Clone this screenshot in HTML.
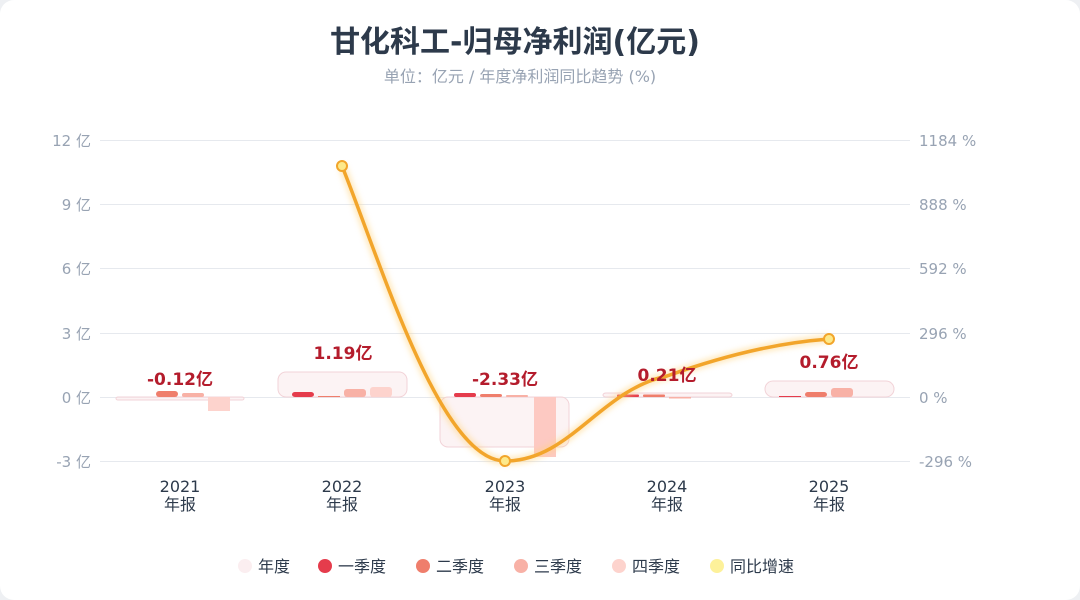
<!DOCTYPE html>
<html><head><meta charset="utf-8"><style>
body{margin:0;background:#eef0f3;}
svg text{font-family:"DejaVu Sans","Noto Sans CJK SC",sans-serif;}
</style></head><body>
<svg width="1080" height="600" viewBox="0 0 1080 600" style="display:block">
<defs><filter id="gl" x="-20%" y="-20%" width="140%" height="140%"><feGaussianBlur stdDeviation="3"/></filter></defs>
<rect width="1080" height="600" fill="#eef0f3"/>
<rect width="1080" height="600" rx="14" fill="#fff"/>
<text x="515" y="52" text-anchor="middle" font-size="30" font-weight="bold" fill="#2d3a4b">甘化科工-归母净利润(亿元)</text>
<text x="520" y="82" text-anchor="middle" font-size="16" fill="#98a3b3">单位：亿元 / 年度净利润同比趋势 (%)</text>
<g stroke="#e6e9ee" stroke-width="1">
<line x1="100" y1="140.5" x2="910" y2="140.5"/><line x1="100" y1="204.5" x2="910" y2="204.5"/>
<line x1="100" y1="268.5" x2="910" y2="268.5"/><line x1="100" y1="333.5" x2="910" y2="333.5"/>
<line x1="100" y1="397.5" x2="910" y2="397.5"/><line x1="100" y1="461.5" x2="910" y2="461.5"/>
</g>
<g font-size="15" fill="#98a3b3" text-anchor="end">
<text x="91" y="146">12 亿</text><text x="91" y="210">9 亿</text><text x="91" y="274">6 亿</text>
<text x="91" y="339">3 亿</text><text x="91" y="403">0 亿</text><text x="91" y="467">-3 亿</text>
</g>
<g font-size="15" fill="#98a3b3">
<text x="919" y="146">1184 %</text><text x="919" y="210">888 %</text><text x="919" y="274">592 %</text>
<text x="919" y="339">296 %</text><text x="919" y="403">0 %</text><text x="919" y="467">-296 %</text>
</g>
<g fill="#fbeef0" fill-opacity="0.7" stroke="#f2d3d8" stroke-width="1">
<rect x="116" y="397" width="128" height="3" rx="2"/>
<rect x="278" y="372" width="129" height="25" rx="8"/>
<rect x="440" y="397" width="129" height="50" rx="8"/>
<rect x="603" y="393" width="129" height="4" rx="3"/>
<rect x="765" y="381" width="129" height="16" rx="8"/>
</g>
<g>
<rect x="156" y="391" width="22" height="6" rx="3" fill="#ef7e6c"/>
<rect x="182" y="393" width="22" height="4" rx="2" fill="#f8b1a6"/>
<rect x="208" y="397" width="22" height="14" fill="#fdd3cd"/>
<rect x="292" y="392" width="22" height="5" rx="3" fill="#e53c4c"/>
<rect x="318" y="396" width="22" height="1" fill="#ef7e6c"/>
<rect x="344" y="389" width="22" height="8" rx="3" fill="#f8b1a6"/>
<rect x="370" y="387" width="22" height="10" rx="3" fill="#fdd3cd"/>
<rect x="454" y="393" width="22" height="4" rx="2" fill="#e53c4c"/>
<rect x="480" y="394" width="22" height="3" rx="2" fill="#ef7e6c"/>
<rect x="506" y="395" width="22" height="2" rx="1" fill="#f8b1a6"/>
<rect x="534" y="397" width="22" height="60" fill="#fdc9c2"/>
<rect x="617" y="394.5" width="22" height="2.5" rx="1" fill="#e53c4c"/>
<rect x="643" y="394.5" width="22" height="2.5" rx="1" fill="#ef7e6c"/>
<rect x="669" y="397" width="22" height="1.5" fill="#f8b1a6"/>
<rect x="779" y="396" width="22" height="1" fill="#e53c4c"/>
<rect x="805" y="392" width="22" height="5" rx="3" fill="#ef7e6c"/>
<rect x="831" y="388" width="22" height="9" rx="3" fill="#f8b1a6"/>
</g>
<path d="M342,166 C380,260 440,461 505,461 C570,461 600,390 667,376 C740,350 790,342 829,339" fill="none" stroke="#ffd27a" stroke-width="8" opacity="0.5" filter="url(#gl)"/>
<path d="M342,166 C380,260 440,461 505,461 C570,461 600,390 667,376 C740,350 790,342 829,339" fill="none" stroke="#f2a52b" stroke-width="3.5"/>
<g fill="#fde98a" stroke="#f2a52b" stroke-width="2">
<circle cx="342" cy="166" r="5"/><circle cx="505" cy="461" r="5"/><circle cx="829" cy="339" r="5"/>
</g>
<g font-size="17" font-weight="bold" fill="#b41c2c" text-anchor="middle">
<text x="180" y="385">-0.12亿</text><text x="343" y="359">1.19亿</text><text x="505" y="385">-2.33亿</text>
<text x="667" y="381">0.21亿</text><text x="829" y="368">0.76亿</text>
</g>
<g font-size="16" fill="#2d3a4b" text-anchor="middle">
<text x="180" y="492">2021</text><text x="180" y="510">年报</text>
<text x="342" y="492">2022</text><text x="342" y="510">年报</text>
<text x="505" y="492">2023</text><text x="505" y="510">年报</text>
<text x="667" y="492">2024</text><text x="667" y="510">年报</text>
<text x="829" y="492">2025</text><text x="829" y="510">年报</text>
</g>
<g font-size="16" fill="#2d3a4b">
<circle cx="245" cy="566" r="7" fill="#fbeef0"/><text x="258" y="572">年度</text>
<circle cx="325" cy="566" r="7" fill="#e53c4c"/><text x="338" y="572">一季度</text>
<circle cx="423" cy="566" r="7" fill="#ef7e6c"/><text x="436" y="572">二季度</text>
<circle cx="521" cy="566" r="7" fill="#f8b1a6"/><text x="534" y="572">三季度</text>
<circle cx="619" cy="566" r="7" fill="#fdd3cd"/><text x="632" y="572">四季度</text>
<circle cx="717" cy="566" r="7" fill="#fdf19a"/><text x="730" y="572">同比增速</text>
</g>
</svg>
</body></html>
